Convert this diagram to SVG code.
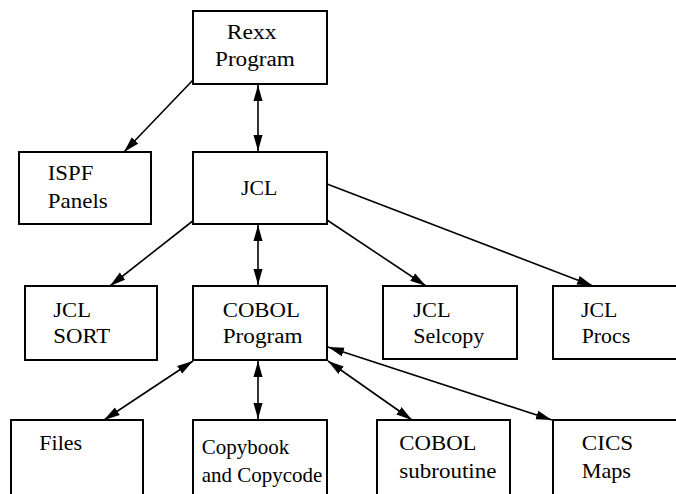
<svg xmlns="http://www.w3.org/2000/svg" width="676" height="494" viewBox="0 0 676 494">
<defs>
<marker id="ah" markerUnits="userSpaceOnUse" markerWidth="17" markerHeight="11" refX="16" refY="5" orient="auto-start-reverse" viewBox="0 0 17 11">
<path d="M0,0.5 L16,5 L0,9.5 z" fill="#000"/>
</marker>
</defs>
<rect width="676" height="494" fill="#fff"/>
<g id="connectors" stroke="#000" stroke-width="1.6" fill="none">
<line x1="193" y1="80" x2="124" y2="152" marker-end="url(#ah)"/>
<line x1="258" y1="85" x2="258" y2="151" marker-start="url(#ah)" marker-end="url(#ah)"/>
<line x1="194" y1="220" x2="110" y2="286" marker-end="url(#ah)"/>
<line x1="258" y1="225" x2="258" y2="285" marker-start="url(#ah)" marker-end="url(#ah)"/>
<line x1="327" y1="220" x2="426" y2="286" marker-end="url(#ah)"/>
<line x1="327" y1="184" x2="593" y2="286" marker-end="url(#ah)"/>
<line x1="193" y1="361" x2="104" y2="420" marker-start="url(#ah)" marker-end="url(#ah)"/>
<line x1="258" y1="361" x2="258" y2="419" marker-start="url(#ah)" marker-end="url(#ah)"/>
<line x1="328" y1="361" x2="412" y2="420" marker-start="url(#ah)" marker-end="url(#ah)"/>
<line x1="328" y1="347" x2="552" y2="420" marker-start="url(#ah)" marker-end="url(#ah)"/>
</g>
<g id="rexx"><rect fill="#fff" stroke="#000" stroke-width="2" x="193" y="11" width="134" height="73"/>
<text font-family="Liberation Serif" font-size="20" transform="translate(226.7,39) scale(1.18,1)">Rexx</text>
<text font-family="Liberation Serif" font-size="20" transform="translate(215,65.7) scale(1.16,1)">Program</text></g>
<g id="ispf"><rect fill="#fff" stroke="#000" stroke-width="2" x="19" y="152" width="132" height="72"/>
<text font-family="Liberation Serif" font-size="20" transform="translate(47.7,180) scale(1.14,1)">ISPF</text>
<text font-family="Liberation Serif" font-size="20" transform="translate(47.7,208.3) scale(1.15,1)">Panels</text></g>
<g id="jcl"><rect fill="#fff" stroke="#000" stroke-width="2" x="193" y="152" width="134" height="72"/>
<text font-family="Liberation Serif" font-size="20" transform="translate(241,195) scale(1.09,1)">JCL</text></g>
<g id="jclsort"><rect fill="#fff" stroke="#000" stroke-width="2" x="25" y="286" width="132" height="74"/>
<text font-family="Liberation Serif" font-size="20" transform="translate(53.3,316.7) scale(1.13,1)">JCL</text>
<text font-family="Liberation Serif" font-size="20" transform="translate(53.3,342.7) scale(1.14,1)">SORT</text></g>
<g id="cobolprogram"><rect fill="#fff" stroke="#000" stroke-width="2" x="193" y="286" width="134" height="74"/>
<text font-family="Liberation Serif" font-size="20" transform="translate(222.7,316.7) scale(1.14,1)">COBOL</text>
<text font-family="Liberation Serif" font-size="20" transform="translate(222.7,342.7) scale(1.16,1)">Program</text></g>
<g id="jclselcopy"><rect fill="#fff" stroke="#000" stroke-width="2" x="383" y="286" width="134" height="73"/>
<text font-family="Liberation Serif" font-size="20" transform="translate(413.3,316.7) scale(1.12,1)">JCL</text>
<text font-family="Liberation Serif" font-size="20" transform="translate(413.3,342.7) scale(1.1,1)">Selcopy</text></g>
<g id="jclprocs"><rect fill="#fff" stroke="#000" stroke-width="2" x="553" y="286" width="130" height="73"/>
<text font-family="Liberation Serif" font-size="20" transform="translate(581,316.7) scale(1.09,1)">JCL</text>
<text font-family="Liberation Serif" font-size="20" transform="translate(581.7,342.7) scale(1.09,1)">Procs</text></g>
<g id="files"><rect fill="#fff" stroke="#000" stroke-width="2" x="11" y="420" width="132" height="80"/>
<text font-family="Liberation Serif" font-size="20" transform="translate(39.3,450) scale(1.1,1)">Files</text></g>
<g id="copybook"><rect fill="#fff" stroke="#000" stroke-width="2" x="193" y="420" width="134" height="80"/>
<text font-family="Liberation Serif" font-size="20" transform="translate(201.7,454.3) scale(1.05,1)">Copybook</text>
<text font-family="Liberation Serif" font-size="20" transform="translate(201.7,482.3) scale(1.05,1)">and Copycode</text></g>
<g id="cobolsub"><rect fill="#fff" stroke="#000" stroke-width="2" x="377" y="420" width="133" height="80"/>
<text font-family="Liberation Serif" font-size="20" transform="translate(399.3,450) scale(1.14,1)">COBOL</text>
<text font-family="Liberation Serif" font-size="20" transform="translate(399.3,478.3) scale(1.15,1)">subroutine</text></g>
<g id="cicsmaps"><rect fill="#fff" stroke="#000" stroke-width="2" x="553" y="420" width="130" height="80"/>
<text font-family="Liberation Serif" font-size="20" transform="translate(581.7,450) scale(1.16,1)">CICS</text>
<text font-family="Liberation Serif" font-size="20" transform="translate(581.7,478.3) scale(1.11,1)">Maps</text></g>
</svg>
